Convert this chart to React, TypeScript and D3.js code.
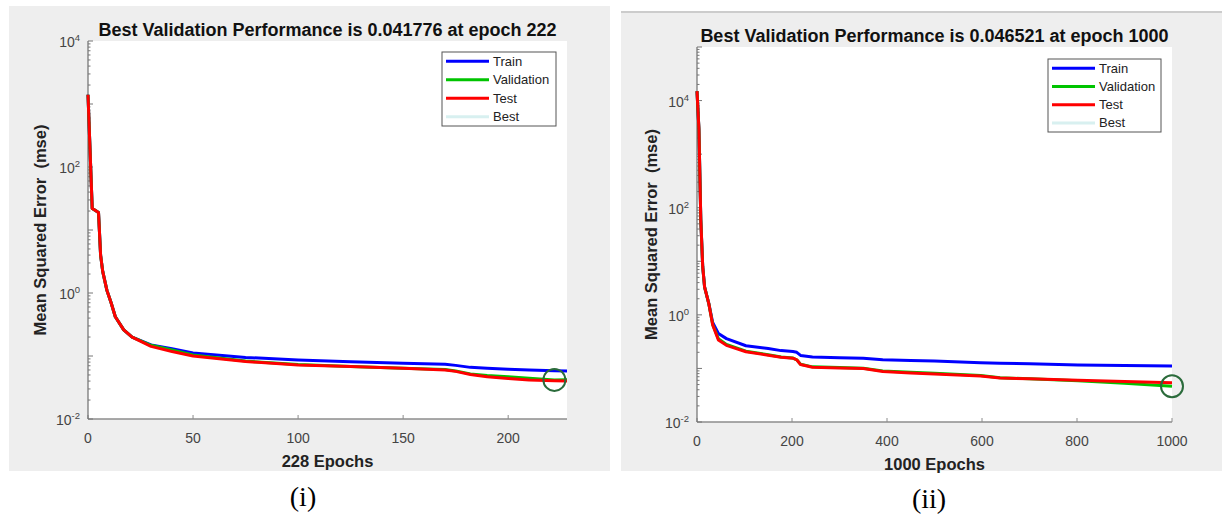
import { useEffect, useRef } from 'react';
import * as d3 from 'd3';

const seriesNames = ['Train', 'Validation', 'Test', 'Best'];
const seriesColors = ['#0000ff', '#00c400', '#ff0000', '#d8f0f0'];

// panel (i): 228 epochs
const epochsA = [0, 2, 3, 5, 6, 7, 9, 11, 13, 17, 21, 30, 40, 50, 75, 100, 125, 150, 170, 175, 182, 190, 200, 210, 222, 228];
const trainA = [1400, 22, 21, 19, 4, 2.2, 1.1, 0.7, 0.42, 0.26, 0.2, 0.15, 0.13, 0.112, 0.095, 0.0865, 0.081, 0.077, 0.074, 0.071, 0.066, 0.064, 0.0615, 0.06, 0.0585, 0.058];
const validationA = [1400, 22, 21, 19, 4, 2.2, 1.1, 0.7, 0.42, 0.26, 0.2, 0.148, 0.125, 0.104, 0.083, 0.073, 0.068, 0.064, 0.061, 0.058, 0.052, 0.049, 0.047, 0.0445, 0.041776, 0.0419];
const testA = [1400, 22, 21, 19, 4, 2.2, 1.1, 0.7, 0.42, 0.26, 0.2, 0.142, 0.118, 0.1, 0.082, 0.072, 0.068, 0.064, 0.06, 0.057, 0.051, 0.047, 0.044, 0.0415, 0.0405, 0.04];
const bestEpochA = 222;
const bestValueA = 0.041776;
const xTicksA = [0, 50, 100, 150, 200];
const yExpTicksA = [-2, 0, 2, 4];

// panel (ii): 1000 epochs
const epochsB = [0, 4, 8, 12, 16, 25, 33, 45, 62, 103, 150, 177, 202, 210, 218, 243, 300, 350, 391, 450, 500, 597, 638, 700, 802, 900, 1000];
const trainB = [15000, 3000, 60, 8, 3.3, 1.6, 0.72, 0.45, 0.36, 0.265, 0.235, 0.215, 0.207, 0.2, 0.175, 0.163, 0.158, 0.155, 0.145, 0.14, 0.137, 0.128, 0.125, 0.122, 0.116, 0.113, 0.111];
const validationB = [15000, 3000, 60, 8, 3.3, 1.6, 0.66, 0.36, 0.28, 0.21, 0.18, 0.163, 0.156, 0.145, 0.12, 0.107, 0.104, 0.101, 0.09, 0.085, 0.081, 0.074, 0.067, 0.064, 0.059, 0.053, 0.046521];
const testB = [15000, 3000, 60, 8, 3.3, 1.6, 0.65, 0.34, 0.27, 0.205, 0.177, 0.162, 0.155, 0.145, 0.118, 0.105, 0.102, 0.1, 0.088, 0.082, 0.079, 0.072, 0.066, 0.064, 0.06, 0.057, 0.054];
const bestEpochB = 1000;
const bestValueB = 0.046521;
const xTicksB = [0, 200, 400, 600, 800, 1000];
const yExpTicksB = [-2, 0, 2, 4];

interface PanelSpec {
  epochs: number[];
  series: number[][];
  bestEpoch: number;
  bestValue: number;
  xTicks: number[];
  yExpTicks: number[];
  xMax: number;
  yExpMax: number;
  title: string;
  xLabel: string;
  caption: string;
  bg: { x: number; y: number; w: number; h: number };
  plot: { left: number; right: number; top: number; bottom: number };
  titleY: number;
  yLabelX: number;
  legend: { x: number; y: number; w: number; h: number };
  captionX: number;
  captionY: number;
  topRule: boolean;
}

const panels: PanelSpec[] = [
  {
    epochs: epochsA,
    series: [trainA, validationA, testA],
    bestEpoch: bestEpochA,
    bestValue: bestValueA,
    xTicks: xTicksA,
    yExpTicks: yExpTicksA,
    xMax: 228,
    yExpMax: 4,
    title: 'Best Validation Performance is 0.041776 at epoch 222',
    xLabel: '228 Epochs',
    caption: '(i)',
    bg: { x: 9, y: 6, w: 601, h: 465 },
    plot: { left: 88, right: 567, top: 41, bottom: 419 },
    titleY: 36,
    yLabelX: 46,
    legend: { x: 442, y: 52, w: 114, h: 74 },
    captionX: 303,
    captionY: 506,
    topRule: false,
  },
  {
    epochs: epochsB,
    series: [trainB, validationB, testB],
    bestEpoch: bestEpochB,
    bestValue: bestValueB,
    xTicks: xTicksB,
    yExpTicks: yExpTicksB,
    xMax: 1000,
    yExpMax: 5,
    title: 'Best Validation Performance is 0.046521 at epoch 1000',
    xLabel: '1000 Epochs',
    caption: '(ii)',
    bg: { x: 621, y: 12, w: 601, h: 459 },
    plot: { left: 697, right: 1172, top: 47, bottom: 422 },
    titleY: 42,
    yLabelX: 657,
    legend: { x: 1048, y: 59, w: 113, h: 73 },
    captionX: 929,
    captionY: 508,
    topRule: true,
  },
];

const font = 'Liberation Sans, Arial, sans-serif';

function drawPanel(root: d3.Selection<SVGSVGElement, unknown, null, undefined>, p: PanelSpec) {
  const g = root.append('g');

  g.append('rect')
    .attr('x', p.bg.x)
    .attr('y', p.bg.y)
    .attr('width', p.bg.w)
    .attr('height', p.bg.h)
    .attr('fill', '#eeeeee');

  if (p.topRule) {
    g.append('line')
      .attr('x1', p.bg.x)
      .attr('x2', p.bg.x + p.bg.w)
      .attr('y1', p.bg.y)
      .attr('y2', p.bg.y)
      .attr('stroke', '#cccccc')
      .attr('stroke-width', 2);
  }

  const x = d3.scaleLinear().domain([0, p.xMax]).range([p.plot.left, p.plot.right]);
  const y = d3
    .scaleLog()
    .domain([0.01, Math.pow(10, p.yExpMax)])
    .range([p.plot.bottom, p.plot.top]);

  // white plot area
  g.append('rect')
    .attr('x', p.plot.left)
    .attr('y', p.plot.top)
    .attr('width', p.plot.right - p.plot.left)
    .attr('height', p.plot.bottom - p.plot.top)
    .attr('fill', '#ffffff');

  // x axis
  g.append('line')
    .attr('x1', p.plot.left)
    .attr('x2', p.plot.right)
    .attr('y1', p.plot.bottom)
    .attr('y2', p.plot.bottom)
    .attr('stroke', '#8c8c8c')
    .attr('stroke-width', 1.5);

  g.selectAll('.xtick')
    .data(p.xTicks)
    .enter()
    .append('line')
    .attr('x1', (d) => x(d))
    .attr('x2', (d) => x(d))
    .attr('y1', p.plot.bottom)
    .attr('y2', p.plot.bottom - 4)
    .attr('stroke', '#8c8c8c');

  g.selectAll('.xlab')
    .data(p.xTicks)
    .enter()
    .append('text')
    .attr('x', (d) => x(d))
    .attr('y', p.plot.bottom + 24)
    .attr('text-anchor', 'middle')
    .attr('font-family', font)
    .attr('font-size', 14)
    .attr('fill', '#444')
    .text((d) => d);

  // y axis
  g.append('line')
    .attr('x1', p.plot.left)
    .attr('x2', p.plot.left)
    .attr('y1', p.plot.top)
    .attr('y2', p.plot.bottom)
    .attr('stroke', '#6e6e6e')
    .attr('stroke-width', 1.2);

  const minor: number[] = [];
  for (let e = -2; e < p.yExpMax; e++) {
    for (let m = 2; m <= 9; m++) minor.push(m * Math.pow(10, e));
  }
  g.selectAll('.yminor')
    .data(minor)
    .enter()
    .append('line')
    .attr('x1', p.plot.left)
    .attr('x2', p.plot.left + 2.5)
    .attr('y1', (d) => y(d))
    .attr('y2', (d) => y(d))
    .attr('stroke', '#777');

  const majors = d3.range(-2, p.yExpMax + 1);
  g.selectAll('.ymajor')
    .data(majors)
    .enter()
    .append('line')
    .attr('x1', p.plot.left)
    .attr('x2', p.plot.left + 5)
    .attr('y1', (d) => y(Math.pow(10, d)))
    .attr('y2', (d) => y(Math.pow(10, d)))
    .attr('stroke', '#777');

  const ylab = g
    .selectAll('.ylab')
    .data(p.yExpTicks)
    .enter()
    .append('text')
    .attr('x', p.plot.left - 8)
    .attr('y', (d) => y(Math.pow(10, d)) + 6)
    .attr('text-anchor', 'end')
    .attr('font-family', font)
    .attr('font-size', 14)
    .attr('fill', '#444');
  ylab.append('tspan').text('10');
  ylab
    .append('tspan')
    .attr('dy', -6)
    .attr('font-size', 9.5)
    .text((d) => (d < 0 ? '-' + Math.abs(d) : String(d)));

  // series
  const line = d3
    .line<number>()
    .x((_, i) => x(p.epochs[i]))
    .y((d) => y(d));

  p.series.forEach((vals, k) => {
    g.append('path')
      .datum(vals)
      .attr('d', line)
      .attr('fill', 'none')
      .attr('stroke', seriesColors[k])
      .attr('stroke-width', 3)
      .attr('stroke-linejoin', 'round');
  });

  // best marker
  g.append('circle')
    .attr('cx', x(p.bestEpoch))
    .attr('cy', y(p.bestValue))
    .attr('r', 11)
    .attr('fill', 'none')
    .attr('stroke', '#2b6b3b')
    .attr('stroke-width', 2);

  // title
  g.append('text')
    .attr('x', (p.plot.left + p.plot.right) / 2)
    .attr('y', p.titleY)
    .attr('text-anchor', 'middle')
    .attr('font-family', font)
    .attr('font-weight', 'bold')
    .attr('font-size', 18)
    .attr('fill', '#111')
    .text(p.title);

  // x label
  g.append('text')
    .attr('x', (p.plot.left + p.plot.right) / 2)
    .attr('y', p.plot.bottom + 48)
    .attr('text-anchor', 'middle')
    .attr('font-family', font)
    .attr('font-weight', 'bold')
    .attr('font-size', 16.5)
    .attr('fill', '#222')
    .text(p.xLabel);

  // y label
  const cy = (p.plot.top + p.plot.bottom) / 2;
  g.append('text')
    .attr('transform', `translate(${p.yLabelX},${cy}) rotate(-90)`)
    .attr('text-anchor', 'middle')
    .attr('font-family', font)
    .attr('font-weight', 'bold')
    .attr('font-size', 16.5)
    .attr('fill', '#222')
    .style('white-space', 'pre')
    .text('Mean Squared Error  (mse)');

  // legend
  const lg = g.append('g').attr('transform', `translate(${p.legend.x},${p.legend.y})`);
  lg.append('rect')
    .attr('width', p.legend.w)
    .attr('height', p.legend.h)
    .attr('fill', '#ffffff')
    .attr('stroke', '#555')
    .attr('stroke-width', 1);
  const rowH = p.legend.h / seriesNames.length;
  const rows = lg
    .selectAll('.lrow')
    .data(seriesNames)
    .enter()
    .append('g')
    .attr('transform', (_, i) => `translate(0,${rowH * (i + 0.5)})`);
  rows
    .append('line')
    .attr('x1', 4)
    .attr('x2', 47)
    .attr('stroke', (_, i) => seriesColors[i])
    .attr('stroke-width', 3);
  rows
    .append('text')
    .attr('x', 51)
    .attr('y', 4.5)
    .attr('font-family', font)
    .attr('font-size', 13)
    .attr('fill', '#222')
    .text((d) => d);

  // caption
  root
    .append('text')
    .attr('x', p.captionX)
    .attr('y', p.captionY)
    .attr('text-anchor', 'middle')
    .attr('font-family', 'Liberation Serif, Times New Roman, serif')
    .attr('font-size', 28)
    .attr('fill', '#000')
    .text(p.caption);
}

const App = () => {
  const svgRef = useRef<SVGSVGElement>(null);

  useEffect(() => {
    if (!svgRef.current) return;
    const svg = d3.select(svgRef.current);
    svg.selectAll('*').remove();
    svg.attr('width', 1222).attr('height', 514);
    svg.append('rect').attr('width', 1222).attr('height', 514).attr('fill', '#ffffff');
    panels.forEach((p) => drawPanel(svg, p));
  }, []);

  return <svg ref={svgRef} style={{ position: 'absolute', left: 0, top: 0 }}></svg>;
};

export default App;
